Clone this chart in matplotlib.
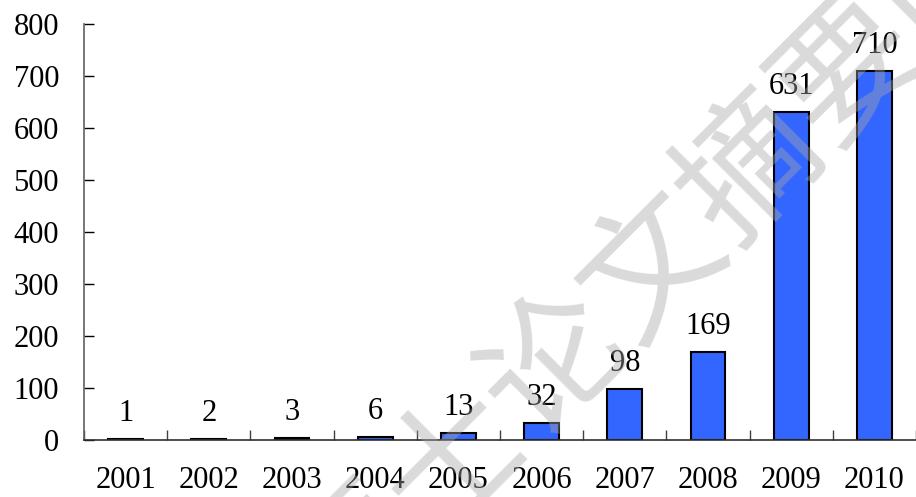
import numpy as np
import matplotlib.pyplot as plt

# --- datos ---
years = ["2001", "2002", "2003", "2004", "2005", "2006", "2007", "2008", "2009", "2010"]
counts = [1, 2, 3, 6, 13, 32, 98, 169, 631, 710]
yticks = [0, 100, 200, 300, 400, 500, 600, 700, 800]

plt.rcParams['font.family'] = ['Liberation Serif', 'DejaVu Serif']

fig = plt.figure(figsize=(9.16, 4.97), dpi=100)
ax = fig.add_axes([84 / 916, 57 / 497, 832 / 916, 416 / 497])

x = np.arange(len(years))
bars = ax.bar(x, counts, width=0.42, color='#3366ff', edgecolor='black', linewidth=1.5, zorder=2)
ax.bar_label(bars, labels=[str(c) for c in counts], padding=8, fontsize=22)

ax.set_xlim(-0.5, len(years) - 0.5)
ax.set_ylim(0, 800)
ax.set_yticks(yticks)
ax.set_yticklabels([str(v) for v in yticks], fontsize=22)
ax.set_xticks(x)
ax.set_xticklabels(years, fontsize=22)
ax.set_xticks(np.arange(len(years) + 1) - 0.5, minor=True)

ax.tick_params(axis='x', which='major', length=0, pad=19)
ax.tick_params(axis='x', which='minor', direction='in', length=7, width=1, color='#404040')
ax.tick_params(axis='y', direction='in', length=7, width=1, pad=18, color='black')

for s in ['top', 'right']:
    ax.spines[s].set_visible(False)
ax.spines['left'].set_color('#606060')
ax.spines['bottom'].set_color('#303030')
ax.spines['left'].set_linewidth(1.2)
ax.spines['bottom'].set_linewidth(1.2)

# marca de agua
fig.text(655 / 916, 1 - 268 / 497, "硕士论文摘要网", fontsize=100, rotation=45,
         ha='center', va='center', rotation_mode='anchor', color='#a8a8a8', alpha=0.42,
         family=['Noto Sans CJK SC', 'DejaVu Sans'], zorder=10)

fig.savefig("out.png", dpi=100)
